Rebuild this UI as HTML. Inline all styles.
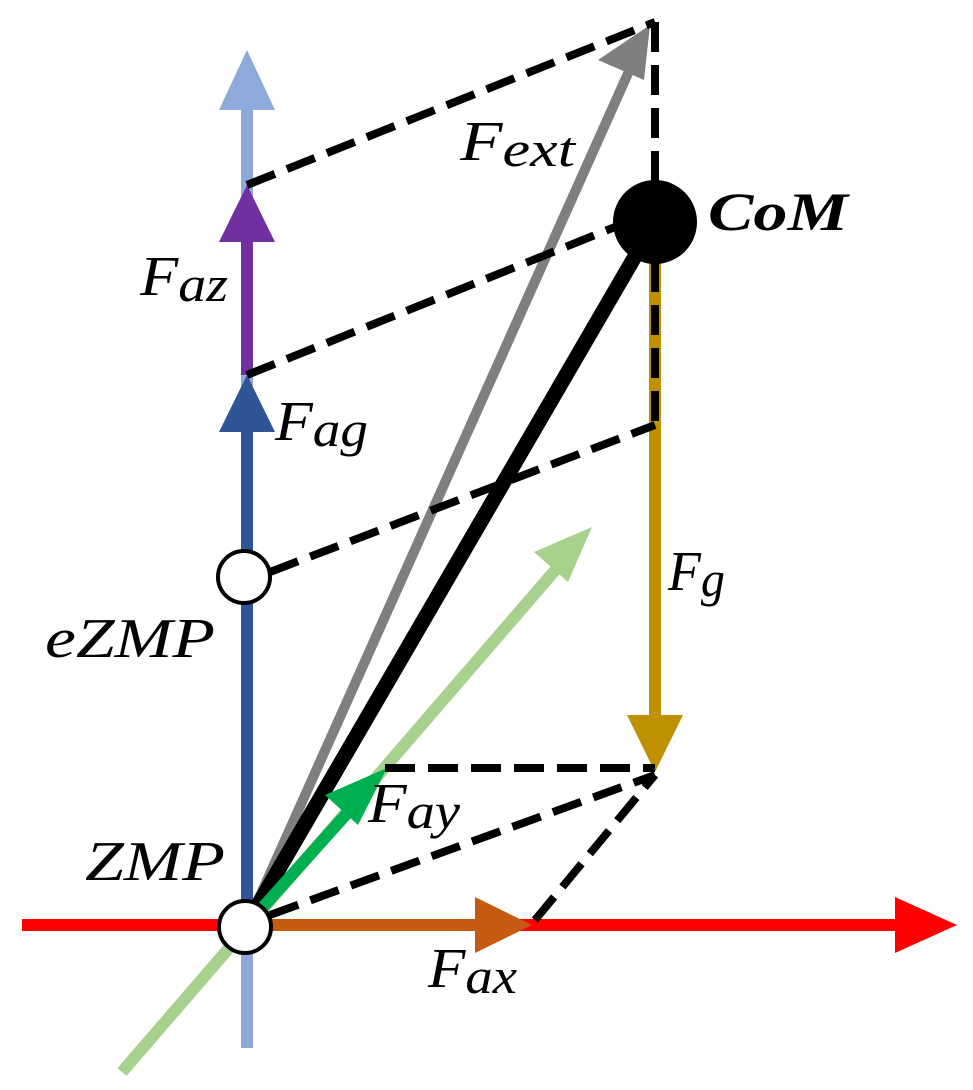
<!DOCTYPE html>
<html><head><meta charset="utf-8"><style>
html,body{margin:0;padding:0;background:#fff;}
svg{display:block}
text{font-family:"Liberation Serif",serif;font-style:italic;fill:#000;}
</style></head><body>
<svg width="973" height="1090" viewBox="0 0 973 1090" xmlns="http://www.w3.org/2000/svg">
<line x1="247" y1="1048" x2="247" y2="100" stroke="#8eaadb" stroke-width="12"/>
<polygon points="219,110 275,110 247,50" fill="#8eaadb"/>
<line x1="22" y1="925" x2="900" y2="925" stroke="#ff0000" stroke-width="12"/>
<polygon points="895,897 895,953 957,925" fill="#ff0000"/>
<line x1="122" y1="1072" x2="570" y2="553" stroke="#a9d18e" stroke-width="12"/>
<polygon points="592,527 534,552 568,582" fill="#a9d18e"/>
<line x1="247" y1="925" x2="247" y2="420" stroke="#2f5597" stroke-width="12"/>
<polygon points="219,432 275,432 247,375" fill="#2f5597"/>
<line x1="247" y1="375" x2="247" y2="230" stroke="#7030a0" stroke-width="12"/>
<polygon points="219,242 275,242 247,185" fill="#7030a0"/>
<line x1="247" y1="925" x2="480" y2="925" stroke="#c55a11" stroke-width="12"/>
<polygon points="475,897 475,953 532,925" fill="#c55a11"/>
<line x1="247" y1="925" x2="634" y2="60" stroke="#7f7f7f" stroke-width="10"/>
<polygon points="650,25 598,60 644,80" fill="#7f7f7f"/>
<line x1="655" y1="262" x2="655" y2="720" stroke="#bf9000" stroke-width="12"/>
<polygon points="627,715 683,715 655,772" fill="#bf9000"/>
<line x1="258" y1="905" x2="655" y2="222" stroke="#000" stroke-width="15"/>
<line x1="247" y1="925" x2="350" y2="810" stroke="#00b050" stroke-width="12"/>
<polygon points="387,768 325,795 358,825" fill="#00b050"/>
<g stroke="#000" stroke-width="8" stroke-dasharray="30,13" fill="none">
<line x1="247" y1="185" x2="655" y2="22"/>
<line x1="655" y1="22" x2="655" y2="200"/>
<line x1="247" y1="375" x2="620" y2="225"/>
<line x1="655" y1="262" x2="655" y2="428"/>
<line x1="270" y1="572" x2="655" y2="425"/>
<line x1="385" y1="768" x2="655" y2="768"/>
<line x1="270" y1="915" x2="655" y2="775"/>
<line x1="535" y1="920" x2="655" y2="775"/>
</g>
<circle cx="655" cy="222" r="42" fill="#000"/>
<circle cx="244" cy="577" r="26" fill="#fff" stroke="#000" stroke-width="4"/>
<circle cx="245" cy="927" r="26" fill="#fff" stroke="#000" stroke-width="4"/>
<text x="460" y="160" font-size="56" textLength="115" lengthAdjust="spacingAndGlyphs">F<tspan font-size="50" dy="6">ext</tspan></text>
<text x="708" y="230" font-size="54" font-weight="bold" textLength="140" lengthAdjust="spacingAndGlyphs">CoM</text>
<text x="140" y="295" font-size="56" textLength="88" lengthAdjust="spacingAndGlyphs">F<tspan font-size="50" dy="6">az</tspan></text>
<text x="275" y="440" font-size="56" textLength="93" lengthAdjust="spacingAndGlyphs">F<tspan font-size="50" dy="6">ag</tspan></text>
<text x="45" y="657" font-size="56" textLength="170" lengthAdjust="spacingAndGlyphs">eZMP</text>
<text x="668" y="590" font-size="56" textLength="57" lengthAdjust="spacingAndGlyphs">F<tspan font-size="50" dy="6">g</tspan></text>
<text x="368" y="822" font-size="56" textLength="92" lengthAdjust="spacingAndGlyphs">F<tspan font-size="50" dy="6">ay</tspan></text>
<text x="85" y="880" font-size="56" textLength="140" lengthAdjust="spacingAndGlyphs">ZMP</text>
<text x="428" y="987" font-size="56" textLength="89" lengthAdjust="spacingAndGlyphs">F<tspan font-size="50" dy="6">ax</tspan></text>
</svg>
</body></html>
